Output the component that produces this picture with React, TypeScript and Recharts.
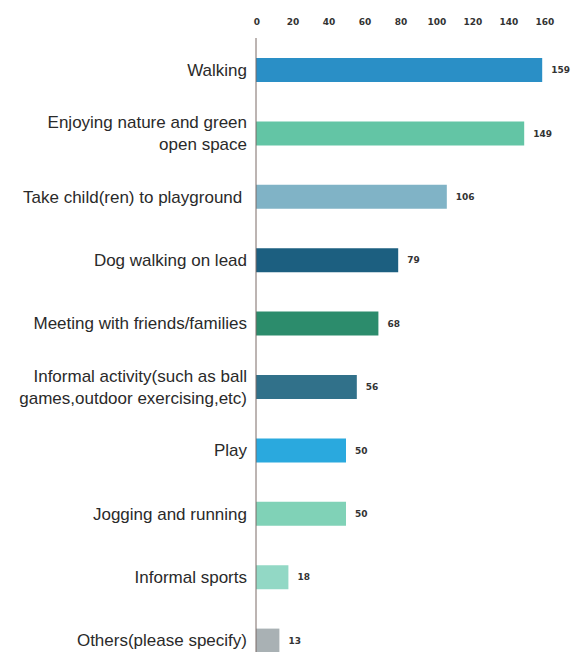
import React from "react";
import { BarChart, Bar, XAxis, YAxis, Cell, LabelList } from "recharts";

const categories = [
  "Walking",
  "Enjoying nature and green\nopen space",
  "Take child(ren) to playground ",
  "Dog walking on lead",
  "Meeting with friends/families",
  "Informal activity(such as ball\ngames,outdoor exercising,etc)",
  "Play",
  "Jogging and running",
  "Informal sports",
  "Others(please specify)",
];
const values = [159, 149, 106, 79, 68, 56, 50, 50, 18, 13];
const colors = [
  "#2a8fc6",
  "#63c5a5",
  "#80b3c6",
  "#1c5f80",
  "#2c8c6c",
  "#31718a",
  "#2aa9de",
  "#80d2b7",
  "#92d8c5",
  "#a9b1b4",
];
const xTicks = [0, 20, 40, 60, 80, 100, 120, 140, 160];

const data = categories.map((c, i) => ({ name: c, value: values[i] }));

const YTick = (props: any) => {
  const { x, y, payload } = props;
  const lines: string[] = String(payload.value).split("\n");
  const lh = 22;
  const start = -((lines.length - 1) * lh) / 2;
  return (
    <text
      x={x}
      y={y}
      textAnchor="end"
      fill="#2a2a2a"
      fontSize={17}
      fontFamily="'Liberation Sans', Arial, sans-serif"
      style={{ whiteSpace: "pre" }}
    >
      {lines.map((l, i) => (
        <tspan key={i} x={x} dy={i === 0 ? start + 6 : lh}>
          {l}
        </tspan>
      ))}
    </text>
  );
};

const XTick = (props: any) => {
  const { x, y, payload } = props;
  return (
    <text
      x={x + 1}
      y={y + 3}
      textAnchor="middle"
      fill="#333"
      fontSize={9}
      fontWeight="bold"
      fontFamily="'DejaVu Sans', sans-serif"
    >
      {payload.value}
    </text>
  );
};

export default function App() {
  return (
    <div style={{ position: "absolute", left: 0, top: 0, background: "#fff" }}>
      <BarChart
        width={574}
        height={672}
        data={data}
        layout="vertical"
        margin={{ top: 0, right: 30, bottom: 0, left: 0 }}
        barSize={24}
      >
        <XAxis
          type="number"
          orientation="top"
          domain={[0, 160]}
          ticks={xTicks}
          height={38}
          axisLine={false}
          tickLine={false}
          tickMargin={10}
          tick={<XTick />}
        />
        <YAxis
          type="category"
          dataKey="name"
          width={256}
          axisLine={{ stroke: "#7a6a66", strokeWidth: 1 }}
          tickLine={false}
          tickMargin={3}
          tick={<YTick />}
          interval={0}
        />
        <Bar dataKey="value" isAnimationActive={false}>
          {data.map((d, i) => (
            <Cell key={i} fill={colors[i]} />
          ))}
          <LabelList
            dataKey="value"
            position="right"
            offset={9}
            fill="#333"
            fontSize={9}
            fontWeight="bold"
            fontFamily="'DejaVu Sans', sans-serif"
          />
        </Bar>
      </BarChart>
    </div>
  );
}
